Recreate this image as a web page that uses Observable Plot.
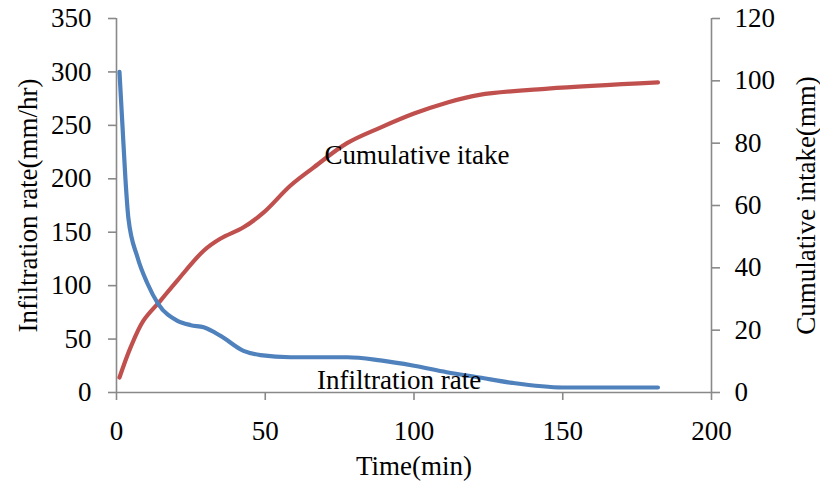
<!DOCTYPE html>
<html>
<head>
<meta charset="utf-8">
<script src="https://cdn.jsdelivr.net/npm/d3@7"></script>
<script src="https://cdn.jsdelivr.net/npm/@observablehq/plot@0.6"></script>
<style>
  html, body { margin: 0; padding: 0; background: #fff; }
  #chart { width: 820px; height: 484px; }
</style>
</head>
<body>
<div id="chart"></div>
<script>
// Infiltration rate (left axis, mm/hr)
const rateTime = [1, 2, 3, 4, 7, 10.4, 14, 20.5, 25, 29.3, 35, 42.7, 48.4, 58.5, 77.6, 88.7, 100, 111, 122, 133, 150, 182];
const rateValue = [300, 250, 200, 163, 127, 102, 83, 67, 63, 61, 53, 39, 35, 33, 33, 30, 25, 19, 14, 9, 4.7, 4.7];

// Cumulative intake (right axis, mm)
const intakeTime = [1, 4.7, 9, 14.8, 20.5, 29.3, 35, 42.7, 49.4, 58.5, 66, 77.5, 88.7, 100, 111, 122, 145, 182];
const intakeValue = [4.8, 14.4, 23, 29.5, 36, 45.5, 49.4, 53, 57.7, 66.4, 72, 80, 85, 89.5, 93, 95.5, 97.5, 99.5];

const xTicks = [0, 50, 100, 150, 200];
const leftTicks = [0, 50, 100, 150, 200, 250, 300, 350];
const rightTicks = [0, 20, 40, 60, 80, 100, 120];

const leftMax = 350, rightMax = 120;
const toLeft = v => v * leftMax / rightMax;

// Annotation labels (data coordinates: time, left-axis value)
const labelText = ["Cumulative itake", "Infiltration rate"];
const labelTime = [101, 95];
const labelValue = [222, 11];

const rateData = rateTime.map((t, i) => ({t, v: rateValue[i]}));
const intakeData = intakeTime.map((t, i) => ({t, v: toLeft(intakeValue[i])}));
const labels = labelText.map((s, i) => ({s, t: labelTime[i], v: labelValue[i]}));

const axisColor = "#898989";
const font = "Liberation Serif, Times New Roman, serif";

const chart = Plot.plot({
  width: 820,
  height: 484,
  marginLeft: 116,
  marginRight: 109,
  marginTop: 18,
  marginBottom: 92,
  style: { fontFamily: font, fontSize: "27px", background: "#fff", color: "#000" },
  x: { domain: [0, 200] },
  y: { domain: [0, leftMax] },
  marks: [
    Plot.ruleX([0, 200], { stroke: axisColor, strokeWidth: 1.6 }),
    Plot.ruleY([0], { stroke: axisColor, strokeWidth: 1.6 }),
    Plot.axisX({ ticks: xTicks, tickSize: 8, tickPadding: 20, stroke: axisColor, strokeWidth: 1.6, fill: "#000", fontSize: 27, label: null, tickFormat: d => d }),
    Plot.axisY({ anchor: "left", ticks: leftTicks, tickSize: 8, tickPadding: 17, stroke: axisColor, strokeWidth: 1.6, fill: "#000", fontSize: 27, label: null, tickFormat: d => d }),
    Plot.axisY({ anchor: "right", ticks: rightTicks.map(toLeft), tickSize: 8, tickPadding: 15, stroke: axisColor, strokeWidth: 1.6, fill: "#000", fontSize: 27, label: null, tickFormat: d => Math.round(d * rightMax / leftMax) }),
    Plot.line(intakeData, { x: "t", y: "v", stroke: "#C0504D", strokeWidth: 4.2, curve: "catmull-rom" }),
    Plot.line(rateData, { x: "t", y: "v", stroke: "#4F81BD", strokeWidth: 4.2, curve: "monotone-x" }),
    Plot.text(labels, { x: "t", y: "v", text: "s", fontSize: 27, fill: "#000", lineAnchor: "middle" }),
    Plot.text(["Time(min)"], { frameAnchor: "bottom", dy: 74, fontSize: 27, fill: "#000", lineAnchor: "middle", textAnchor: "middle" }),
    Plot.text(["Infiltration rate(mm/hr)"], { frameAnchor: "left", dx: -88, rotate: -90, fontSize: 27, fill: "#000", lineAnchor: "middle", textAnchor: "middle" }),
    Plot.text(["Cumulative intake(mm)"], { frameAnchor: "right", dx: 95, rotate: -90, fontSize: 27, fill: "#000", lineAnchor: "middle", textAnchor: "middle" })
  ]
});
document.getElementById("chart").appendChild(chart);
</script>
</body>
</html>
